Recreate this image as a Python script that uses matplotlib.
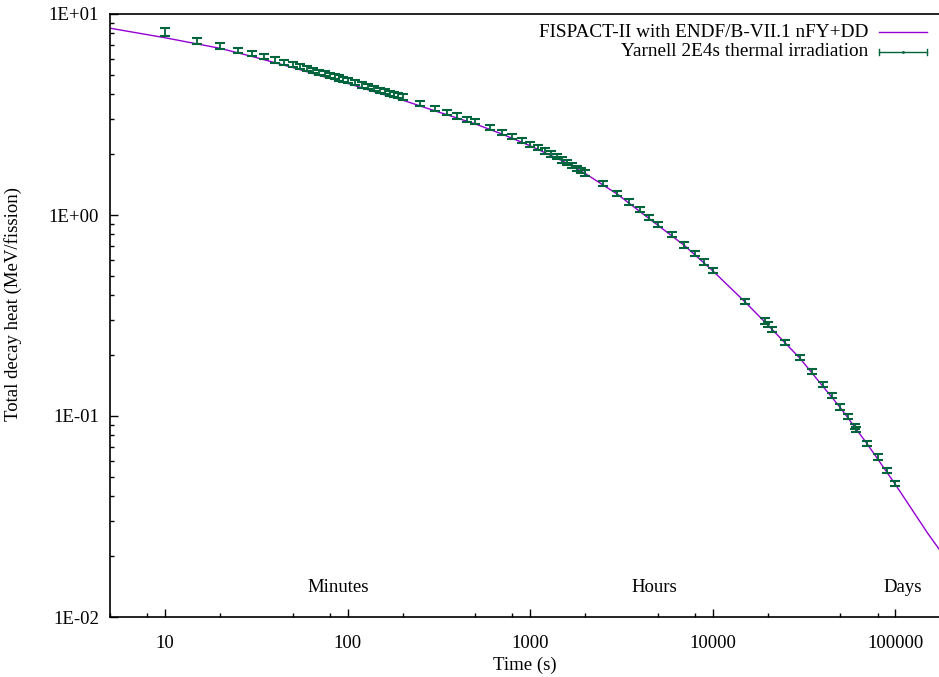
import matplotlib
matplotlib.use('Agg')
import matplotlib.pyplot as plt
from matplotlib.ticker import LogLocator, FuncFormatter, NullFormatter

plt.rcParams['font.family'] = ['Liberation Serif', 'DejaVu Serif']

# Yarnell 2E4 s thermal irradiation (time in s, decay heat in MeV/fission)
yarnell_t = [10, 15, 20, 25, 30, 35, 40, 45, 50, 55,
             60, 65, 70, 75, 80, 85, 90, 95, 100,
             110, 120, 130, 140, 150, 160, 170, 180, 190, 200,
             250, 300, 350, 400, 450, 500, 600, 700, 800, 900,
             1000, 1100, 1200, 1300, 1400, 1500, 1600, 1700, 1800, 1900, 2000,
             2500, 3000, 3500, 4000, 4500, 5000, 6000, 7000, 8000, 9000,
             10000, 15000, 19400, 20000, 21200, 25000, 30000, 35000, 40000,
             45000, 50000, 55000, 60000, 61000, 70000, 80000, 90000, 100000]
yarnell_q = [8.17, 7.37, 6.93, 6.57, 6.37, 6.13, 5.90, 5.75, 5.62, 5.49,
             5.36, 5.24, 5.14, 5.04, 4.95, 4.88, 4.80, 4.73, 4.67,
             4.55, 4.44, 4.35, 4.26, 4.18, 4.11, 4.04, 3.98, 3.92, 3.87,
             3.59, 3.40, 3.24, 3.11, 3.00, 2.91, 2.72, 2.58, 2.45, 2.34,
             2.25, 2.16, 2.08, 2.01, 1.95, 1.88, 1.82, 1.77, 1.71, 1.67, 1.62,
             1.43, 1.28, 1.16, 1.07, 0.974, 0.899, 0.800, 0.709, 0.642, 0.584,
             0.531, 0.372, 0.297, 0.285, 0.269, 0.232, 0.195, 0.166, 0.143,
             0.126, 0.111, 0.0992, 0.0885, 0.0859, 0.0731, 0.0625, 0.0537, 0.0461]
yarnell_err_pct = [4.7, 3.5, 3.2, 3.1, 3.1, 3.0, 3.0, 3.0, 3.0, 3.0,
                   3.0, 3.0, 3.0, 3.0, 3.0, 3.0, 3.0, 3.0, 3.0,
                   3.0, 3.0, 3.0, 3.0, 3.0, 3.0, 3.0, 3.0, 3.0, 3.0,
                   3.0, 3.0, 3.0, 3.0, 3.0, 3.0, 3.0, 3.0, 3.0, 3.0,
                   3.0, 3.0, 3.0, 3.0, 3.0, 3.0, 3.0, 3.0, 3.0, 3.0, 3.0,
                   3.0, 3.0, 3.0, 3.0, 3.0, 3.0, 3.0, 3.0, 3.0, 3.0,
                   3.0, 3.0, 3.0, 3.0, 3.0, 3.0, 3.0, 3.0, 3.0,
                   3.0, 3.0, 3.0, 3.0, 3.0, 3.0, 3.0, 3.0, 3.0]

# FISPACT-II with ENDF/B-VII.1 nFY+DD
fispact_t = [5, 7, 10, 15, 20, 30, 50, 70, 100, 150, 200, 300, 500, 700,
             1000, 1500, 2000, 3000, 5000, 7000, 10000, 15000, 20000, 30000,
             50000, 70000, 100000, 150000, 173500]
fispact_q = [8.5, 8.06, 7.62, 7.10, 6.75, 6.15, 5.42, 4.95, 4.52, 4.03, 3.73,
             3.30, 2.84, 2.53, 2.21, 1.86, 1.61, 1.27, 0.89, 0.705, 0.528,
             0.370, 0.284, 0.194, 0.110, 0.0728, 0.0457, 0.0262, 0.0218]

period_labels = ['Minutes', 'Hours', 'Days']
period_t = [60, 3600, 86400]

purple = '#9400d3'
green = '#00643c'

fig = plt.figure(figsize=(9.39, 6.77), dpi=100)
ax = fig.add_axes([110 / 939, 60 / 677, 829 / 939, 603 / 677])

ax.plot(fispact_t, fispact_q, color=purple, lw=1.0)
yerr = [q * e / 100 for q, e in zip(yarnell_q, yarnell_err_pct)]
ax.errorbar(yarnell_t, yarnell_q, yerr=yerr, fmt='none', ecolor=green,
            elinewidth=1.3, capsize=3.4, capthick=1.5)

ax.set_xscale('log')
ax.set_yscale('log')
ax.set_xlim(5, 173500)
ax.set_ylim(0.01, 10)

ax.xaxis.set_major_locator(LogLocator(base=10, numticks=10))
ax.xaxis.set_minor_locator(LogLocator(base=10, subs=(2, 5, 8), numticks=20))
ax.xaxis.set_major_formatter(FuncFormatter(lambda v, p: '%d' % round(v)))
ax.xaxis.set_minor_formatter(NullFormatter())
ax.yaxis.set_major_locator(LogLocator(base=10, numticks=10))
ax.yaxis.set_minor_locator(LogLocator(base=10, subs=range(2, 10), numticks=20))
ax.yaxis.set_major_formatter(FuncFormatter(lambda v, p: '%.0E' % v))
ax.yaxis.set_minor_formatter(NullFormatter())

ax.tick_params(which='both', direction='in', top=False, right=False,
               labelsize=13.5, width=1.0, colors='black')
ax.tick_params(which='major', length=6)
ax.tick_params(axis='x', which='major', pad=13)
ax.tick_params(axis='y', which='major', pad=8)
ax.tick_params(which='minor', length=3)
ax.spines['right'].set_visible(False)
for s in ['left', 'bottom', 'top']:
    ax.spines[s].set_linewidth(1.2)

ax.set_xlabel('Time (s)', fontsize=13.5)
ax.xaxis.set_label_coords(0.5, -0.066)
ax.set_ylabel('Total decay heat (MeV/fission)', fontsize=13.5)
ax.yaxis.set_label_coords(-0.1065, 0.519)

for lab, t in zip(period_labels, period_t):
    ax.text(t, 0.0141, lab, fontsize=13.5, ha='left', va='center')

# gnuplot style key
ax.text(0.9144, 0.9697, 'FISPACT-II with ENDF/B-VII.1 nFY+DD', transform=ax.transAxes,
        ha='right', va='center', fontsize=13.9)
ax.plot([0.9276, 0.9855], [0.9697, 0.9697], transform=ax.transAxes, color=purple,
        lw=1.0, clip_on=False)
ax.text(0.9144, 0.9375, 'Yarnell 2E4s thermal irradiation', transform=ax.transAxes,
        ha='right', va='center', fontsize=13.9)
ax.plot([0.9276, 0.9855], [0.9375, 0.9375], transform=ax.transAxes, color=green,
        lw=1.0, clip_on=False)
for xc in [0.9276, 0.9855]:
    ax.plot([xc, xc], [0.9325, 0.9425], transform=ax.transAxes, color=green,
            lw=1.0, clip_on=False)
ax.plot([0.9565], [0.9375], transform=ax.transAxes, marker='.', ms=2, color=green,
        clip_on=False)

fig.savefig('out.png', dpi=100)
